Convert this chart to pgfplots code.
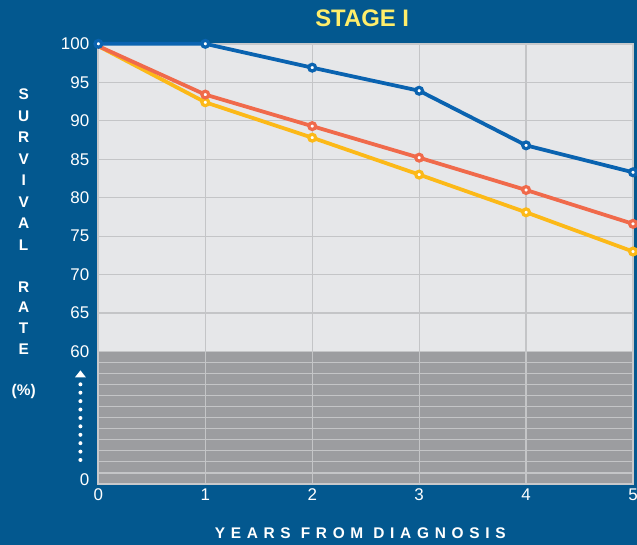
\documentclass[border=0pt]{standalone}
\usepackage{fontspec}
\setmainfont{Liberation Sans}
\usepackage{pgfplots}
\pgfplotsset{compat=1.18}

\definecolor{bgblue}{RGB}{3,88,143}
\definecolor{plotlight}{RGB}{230,231,233}
\definecolor{plotdark}{RGB}{156,157,160}
\definecolor{gridgray}{RGB}{196,197,199}
\definecolor{bordergray}{RGB}{200,201,203}
\definecolor{lineblue}{RGB}{10,99,176}
\definecolor{linered}{RGB}{240,106,75}
\definecolor{lineyellow}{RGB}{252,185,24}
\definecolor{titleyellow}{RGB}{255,238,107}

\begin{document}
\pagecolor{bgblue}
\begin{tikzpicture}
% title and axis label
\node[font=\fontsize{24}{24}\selectfont\bfseries, text=titleyellow] at (361pt,529pt) {STAGE I};
\node[font=\fontsize{15.5}{15.5}\selectfont\bfseries\addfontfeature{LetterSpace=37}, text=white]
  at (359pt,11pt) {YEARS FROM DIAGNOSIS};
\foreach \l/\y in {S/452,U/430,R/409,V/387,I/366,V/344,A/323,L/301,R/259,A/238,T/217,E/196}
  \node[font=\fontsize{15.5}{15.5}\selectfont\bfseries, text=white, inner sep=0pt] at (21pt,\y pt) {\l};
\node[font=\fontsize{15.5}{15.5}\selectfont\bfseries, text=white, inner sep=0pt] at (21pt,154pt) {(\%)};

% dotted arrow beside the broken part of the scale
\fill[white] (78pt,175pt) -- (72.5pt,168pt) -- (83.5pt,168pt) -- cycle;
\foreach \y in {161,152.6,144.1,135.7,127.2,118.8,110.3,101.9,93.4,85}
  \fill[white] (78pt,\y pt) circle (2pt);

\begin{axis}[
  set layers,
  at={(96pt,61pt)}, anchor=south west,
  scale only axis, width=537pt, height=442pt,
  xmin=0, xmax=5, ymin=42.8, ymax=100,
  clip=false,
  xtick={0,1,2,3,4,5},
  xticklabels={0,1,2,3,4,5},
  ytick={44.23,45.67,47.10,48.53,49.97,51.40,52.83,54.27,55.70,57.13,58.57,60,65,70,75,80,85,90,95,100},
  yticklabels={,,,,,,,,,,,60,65,70,75,80,85,90,95,100},
  extra y ticks={43.3},
  extra y tick labels={0},
  extra y tick style={grid=none},
  major tick length=0pt,
  grid=major,
  major grid style={draw=gridgray, line width=1.3pt},
  axis line style={draw=bordergray, line width=2pt},
  tick label style={font=\fontsize{17}{17}\selectfont, text=white},
  /pgf/number format/assume math mode=true,
  yticklabel style={inner sep=0pt, xshift=-9pt},
  xticklabel style={inner sep=0pt, yshift=-5pt},
  datastyle/.style={line width=3.8pt, mark=*, mark size=3.4pt,
    mark options={fill=white, line width=3.2pt}},
]
% plot area: light upper part, dark broken lower part
\addplot[on layer=axis background, draw=none, fill=plotlight, mark=none]
  coordinates {(0,60) (5,60) (5,100) (0,100)} -- cycle;
\addplot[on layer=axis background, draw=none, fill=plotdark, mark=none]
  coordinates {(0,42.8) (5,42.8) (5,60) (0,60)} -- cycle;

% yellow
\addplot[datastyle, color=lineyellow, mark indices={2,3,4,5,6}] coordinates {
  (0,99.7) (1,92.4) (2,87.8) (3,83.0) (4,78.1) (5,73.0)
};
% red
\addplot[datastyle, color=linered, mark indices={2,3,4,5,6}] coordinates {
  (0,99.7) (1,93.4) (2,89.3) (3,85.2) (4,81.0) (5,76.6)
};
% blue
\addplot[datastyle, color=lineblue] coordinates {
  (0,100) (1,100) (2,96.9) (3,93.9) (4,86.8) (5,83.3)
};
\end{axis}
\pgfresetboundingbox
\path[use as bounding box] (0pt,0pt) rectangle (637pt,547pt);
\end{tikzpicture}
\end{document}
